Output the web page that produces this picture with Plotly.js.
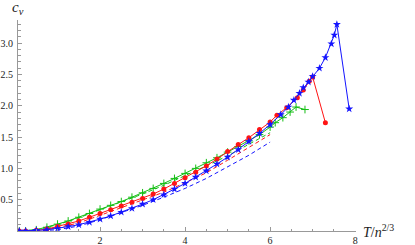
<!DOCTYPE html>
<html>
<head>
<meta charset="utf-8">
<script src="https://cdn.plot.ly/plotly-3.0.1.min.js"></script>
<style>html,body{margin:0;padding:0;background:#fff;}#chart{width:415px;height:245px;}</style>
</head>
<body>
<div id="chart"></div>
<script>
// Simulation data (markers + solid lines)
var blueT = [0.1,0.25,0.5,0.75,1.0,1.25,1.5,1.75,2.0,2.25,2.5,2.75,3.0,3.25,3.5,3.75,4.0,4.25,4.5,4.75,5.0,5.25,5.5,5.75,6.0,6.25,6.43,6.56,6.69,6.78,6.9,7.0,7.16,7.30,7.44,7.51,7.57,7.86];
var blueC = [0.0,0.0,0.01,0.02,0.04,0.07,0.10,0.14,0.19,0.24,0.30,0.36,0.43,0.50,0.58,0.67,0.76,0.86,0.96,1.07,1.18,1.30,1.43,1.56,1.70,1.86,1.98,2.09,2.20,2.29,2.38,2.47,2.60,2.77,2.99,3.13,3.30,1.95];

var redT = [0.1,0.25,0.5,0.75,1.0,1.25,1.5,1.75,2.0,2.25,2.5,2.75,3.0,3.25,3.5,3.75,4.0,4.25,4.5,4.75,5.0,5.25,5.5,5.75,6.0,6.16,6.39,6.64,6.78,6.92,7.0,7.30];
var redC = [0.0,0.0,0.01,0.03,0.07,0.11,0.16,0.22,0.28,0.34,0.40,0.46,0.52,0.59,0.67,0.76,0.85,0.94,1.04,1.15,1.27,1.38,1.49,1.62,1.74,1.85,1.97,2.13,2.25,2.39,2.46,1.73];

var greenT = [0.1,0.25,0.5,0.75,1.0,1.25,1.5,1.75,2.0,2.25,2.5,2.75,3.0,3.25,3.5,3.75,4.0,4.25,4.5,4.75,5.0,5.25,5.5,5.75,6.0,6.12,6.30,6.47,6.61,6.82];
var greenC = [0.0,0.0,0.02,0.06,0.11,0.16,0.22,0.28,0.35,0.41,0.47,0.54,0.61,0.68,0.76,0.84,0.92,1.00,1.09,1.17,1.26,1.35,1.44,1.54,1.66,1.73,1.81,1.90,1.98,1.94];

// Approximation curves (dashed)
var dashT = [0,0.5,1.0,1.5,2.0,2.5,3.0,3.5,4.0,4.5,5.0,5.5,6.0];
var blueDash  = [0,0.0,0.02,0.08,0.18,0.29,0.41,0.54,0.68,0.84,1.02,1.21,1.42];
var redDash   = [0,0.0,0.05,0.13,0.25,0.37,0.49,0.62,0.77,0.93,1.13,1.33,1.54];
var greenDash = [0,0.02,0.10,0.21,0.34,0.46,0.59,0.73,0.88,1.04,1.20,1.38,1.57];

var xTicks = [2,4,6,8];
var xTickText = ['2','4','6','8'];
var yTicks = [0.5,1.0,1.5,2.0,2.5,3.0];
var yTickText = ['0.5','1.0','1.5','2.0','2.5','3.0'];

var BLUE = 'rgb(20,20,255)', RED = 'rgb(255,20,20)', GREEN = 'rgb(20,190,20)';
var SERIF = 'Liberation Serif';

function dashTrace(y, col){
  return {x: dashT, y: y, mode:'lines', line:{color:col, width:1, dash:'4px,3px'}, hoverinfo:'skip', showlegend:false};
}

var traces = [
  dashTrace(greenDash, GREEN),
  dashTrace(redDash, RED),
  dashTrace(blueDash, BLUE),
  {x: greenT, y: greenC, mode:'lines+markers', line:{color:GREEN, width:1},
   marker:{symbol:'cross-thin', size:5.5, color:GREEN, line:{color:GREEN, width:1}}, showlegend:false},
  {x: redT, y: redC, mode:'lines+markers', line:{color:RED, width:1},
   marker:{symbol:'circle', size:5, color:RED}, showlegend:false},
  {x: blueT, y: blueC, mode:'lines+markers', line:{color:BLUE, width:1},
   marker:{symbol:'star', size:6, color:BLUE}, showlegend:false}
];

var axisCol = '#999999';
var tickFont = {family:SERIF, size:10, color:'#222'};

var layout = {
  width:415, height:245,
  font:{family:SERIF},
  margin:{l:18, r:59, t:20, b:14},
  paper_bgcolor:'#fff', plot_bgcolor:'#fff',
  showlegend:false,
  xaxis:{
    range:[0.07, 8.02], showgrid:false, zeroline:false,
    showline:true, linecolor:axisCol, linewidth:1,
    ticks:'inside', ticklen:4, tickcolor:axisCol, tickwidth:1,
    tickmode:'array', tickvals:xTicks, ticktext:xTickText,
    tickfont:tickFont,
    minor:{ticks:'inside', ticklen:2.5, tickcolor:axisCol, tickmode:'linear', tick0:0, dtick:0.5, showgrid:false}
  },
  yaxis:{
    range:[0, 3.37], showgrid:false, zeroline:false,
    showline:true, linecolor:axisCol, linewidth:1,
    ticks:'inside', ticklen:4, tickcolor:axisCol, tickwidth:1,
    tickmode:'array', tickvals:yTicks, ticktext:yTickText,
    tickfont:tickFont, ticklabelstandoff:2,
    minor:{ticks:'inside', ticklen:2.5, tickcolor:axisCol, tickmode:'linear', tick0:0, dtick:0.1, showgrid:false}
  },
  annotations:[
    {xref:'paper', yref:'paper', x:0.0, y:1.055, xanchor:'center', yanchor:'middle', showarrow:false,
     text:'<i>c</i><sub><i>v</i></sub>', font:{family:SERIF, size:15, color:'#222'}},
    {xref:'paper', yref:'paper', x:1.015, y:0.0, xanchor:'left', yanchor:'middle', showarrow:false,
     text:'<i>T</i>/<i>n</i><sup>2/3</sup>', font:{family:SERIF, size:14, color:'#222'}}
  ]
};

Plotly.newPlot('chart', traces, layout, {staticPlot:true, displayModeBar:false});
</script>
</body>
</html>
